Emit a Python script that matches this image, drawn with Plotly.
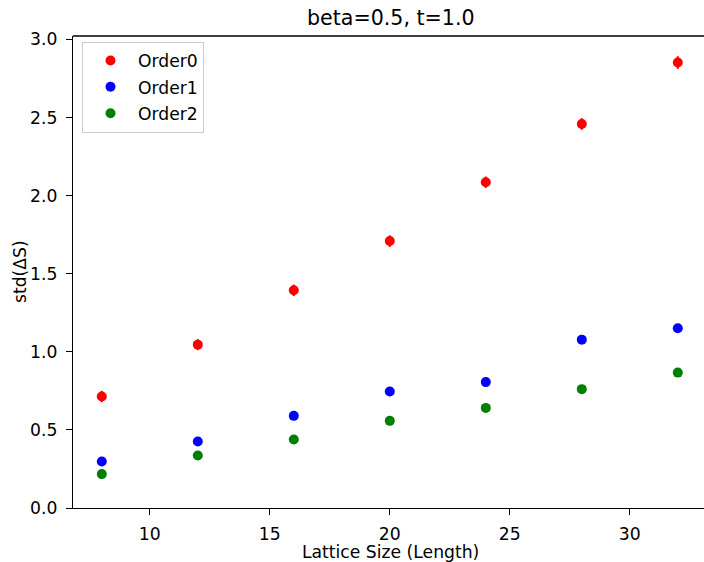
import plotly.graph_objects as go

lattice_sizes = [8, 12, 16, 20, 24, 28, 32]
order0 = [0.714, 1.046, 1.394, 1.709, 2.086, 2.459, 2.852]
order0_err = [0.036, 0.035, 0.036, 0.037, 0.036, 0.037, 0.040]
order1 = [0.298, 0.426, 0.590, 0.746, 0.806, 1.078, 1.151]
order1_err = [0.012, 0.012, 0.013, 0.014, 0.014, 0.016, 0.016]
order2 = [0.217, 0.336, 0.439, 0.558, 0.641, 0.761, 0.867]
order2_err = [0.010, 0.011, 0.012, 0.012, 0.013, 0.014, 0.015]

series = [
    ("Order0", order0, order0_err, "red"),
    ("Order1", order1, order1_err, "blue"),
    ("Order2", order2, order2_err, "green"),
]

FONT = "DejaVu Sans"
TICK = 17.2
fig = go.Figure()
for i, (name, vals, errs, col) in enumerate(series):
    fig.add_trace(go.Scatter(
        x=lattice_sizes, y=vals, name=name, mode="markers",
        legendgroup=name,
        marker=dict(color=col, size=10, line=dict(width=0)),
        error_y=dict(type="data", array=errs, visible=True, color=col,
                     thickness=2.2, width=0),
    ))

W, H = 704, 562
L, T, B = 73, 35.7, 53.7
plot_w = W - L
x0 = 6.8
x1 = x0 + plot_w / 24.0

fig.update_layout(
    width=W, height=H,
    margin=dict(l=L, r=0, t=T, b=B, pad=0),
    paper_bgcolor="white", plot_bgcolor="white",
    font=dict(family=FONT, size=TICK, color="black"),
    showlegend=True,
    legend=dict(x=(82 - L) / plot_w, y=1 - (41.5 - T) / (H - T - B),
                xanchor="left", yanchor="top",
                bordercolor="#cccccc", borderwidth=1, bgcolor="rgba(255,255,255,0.8)",
                font=dict(family=FONT, size=TICK, color="black"),
                traceorder="grouped", tracegroupgap=1, itemwidth=45),
    xaxis=dict(range=[x0, x1], tickvals=[10, 15, 20, 25, 30],
               showgrid=False, zeroline=False, showline=True, linecolor="black",
               linewidth=1.3, ticks="outside", ticklen=6, tickwidth=1.3,
               tickcolor="black", ticklabelstandoff=4,
               tickfont=dict(family=FONT, size=TICK, color="black")),
    yaxis=dict(range=[0, 3.022], tickvals=[0, 0.5, 1.0, 1.5, 2.0, 2.5, 3.0],
               ticktext=["0.0", "0.5", "1.0", "1.5", "2.0", "2.5", "3.0"],
               showgrid=False, zeroline=False, showline=True, linecolor="black",
               linewidth=1.3, ticks="outside", ticklen=6, tickwidth=1.3,
               tickcolor="black", ticklabelstandoff=5,
               tickfont=dict(family=FONT, size=TICK, color="black")),
    shapes=[dict(type="line", xref="paper", yref="paper", x0=0, x1=1, y0=1, y1=1,
                 line=dict(color="black", width=1.3))],
    annotations=[
        dict(text="beta=0.5, t=1.0", xref="paper", yref="paper",
             x=(390.5 - L) / plot_w, y=1, yshift=18, xanchor="center", yanchor="middle",
             showarrow=False, font=dict(family=FONT, size=20.6, color="black")),
        dict(text="Lattice Size (Length)", xref="paper", yref="paper",
             x=(390.5 - L) / plot_w, y=0, yshift=-44, xanchor="center", yanchor="middle",
             showarrow=False, font=dict(family=FONT, size=TICK, color="black")),
        dict(text="std(ΔS)", xref="paper", yref="paper", textangle=-90,
             x=0, xshift=-53, y=0.5, xanchor="center", yanchor="middle",
             showarrow=False, font=dict(family=FONT, size=TICK, color="black")),
    ],
)

fig.write_html(
    "out.html",
    config={"displayModeBar": False},
    post_script="document.body.style.margin='0';document.body.style.overflow='hidden';",
)
